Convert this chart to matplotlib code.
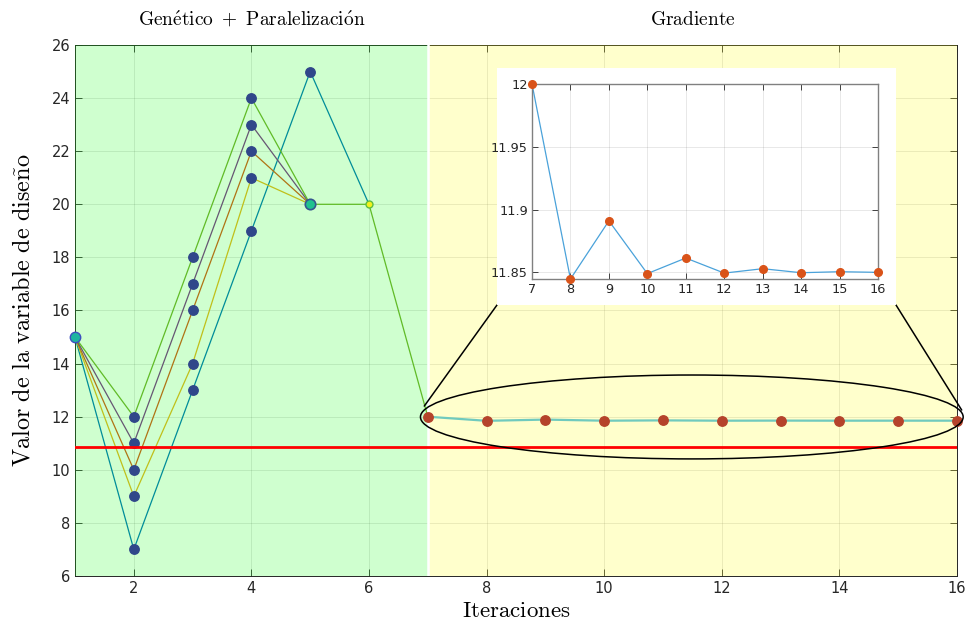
import matplotlib
matplotlib.use("Agg")
import matplotlib.pyplot as plt
from matplotlib.patches import Ellipse, ConnectionPatch

plt.rcParams['mathtext.fontset'] = 'cm'
plt.rcParams['font.family'] = 'DejaVu Sans'

# genetic + parallel phase: one list per individual, starting at iteration 1
gen_green = [15, 12, 18, 24, 20, 20, 12]
gen_purple = [15, 11, 17, 23, 20]
gen_orange = [15, 10, 16, 22, 20]
gen_yellow = [15, 9, 14, 21, 20]
gen_blue = [15, 7, 13, 19, 25, 20]

# gradient phase, iterations 7..16
grad_iter = [7, 8, 9, 10, 11, 12, 13, 14, 15, 16]
grad_vals = [12.0, 11.8447, 11.891, 11.849, 11.8614, 11.8494, 11.8529, 11.8497, 11.8505, 11.85]

limit_value = 10.86

x_ticks = [2, 4, 6, 8, 10, 12, 14, 16]
y_ticks = [6, 8, 10, 12, 14, 16, 18, 20, 22, 24, 26]
inset_yticks = [11.85, 11.9, 11.95, 12.0]
inset_ylabels = ['11.85', '11.9', '11.95', '12']

DARK = (0.15, 0.15, 0.15)
W, H = 968, 626

fig = plt.figure(figsize=(W / 100, H / 100), dpi=100)
ax = fig.add_axes([75 / W, 50 / H, 882 / W, 531 / H])

series = [(gen_blue, (0, 0.447, 0.741)),
          (gen_yellow, (0.929, 0.694, 0.125)),
          (gen_orange, (0.85, 0.325, 0.098)),
          (gen_purple, (0.494, 0.184, 0.556)),
          (gen_green, (0.466, 0.674, 0.188))]
for vals, col in series:
    xs = list(range(1, len(vals) + 1))
    ax.plot(xs, vals, '-', color=col, lw=0.9, zorder=2)

ax.plot(grad_iter, grad_vals, '-', color=(0.301, 0.745, 0.933), lw=1.6, zorder=2)

# shaded phases drawn over lines so they get tinted
ax.axvspan(1, 7, color=(0, 1, 0), alpha=0.19, lw=0, zorder=2.7)
ax.axvspan(7, 16, color=(1, 1, 0), alpha=0.2, lw=0, zorder=2.7)
ax.axvline(7, color='white', lw=1.8, zorder=2.8)

# population markers
for vals in [gen_green, gen_purple, gen_orange, gen_yellow, gen_blue]:
    pts = [(i + 1, v) for i, v in enumerate(vals) if 2 <= i + 1 <= 4]
    ax.plot([p[0] for p in pts], [p[1] for p in pts], 'o', ls='none',
            color='#30478a', ms=6.8, mec='#30478a', zorder=3)
ax.plot([5], [gen_blue[4]], 'o', color='#30478a', ms=6.8, zorder=3)
ax.plot([1], [gen_green[0]], 'o', mfc='#1db5a0', mec='#3d4fc0', ms=7.5, mew=1,
        zorder=3, clip_on=False)
ax.plot([5], [gen_green[4]], 'o', mfc='#1fc28e', mec='#35568f', ms=7.5, mew=1.2, zorder=3)
ax.plot([6], [gen_green[5]], 'o', mfc='#f2f21d', mec='#5fbe40', ms=5, mew=1, zorder=3)

ax.plot(grad_iter, grad_vals, 'o', ls='none', color='#b5432b', ms=6.8, zorder=3,
        clip_on=False)

ax.axhline(limit_value, color='red', lw=2, zorder=3)

ax.set_xlim(1, 16)
ax.set_ylim(6, 26)
ax.set_xticks(x_ticks)
ax.set_yticks(y_ticks)
ax.grid(True, color=DARK, alpha=0.13, lw=0.6)
ax.tick_params(direction='in', top=True, right=True, length=5, width=0.6,
               colors=DARK, labelsize=10.5)
for s in ax.spines.values():
    s.set_color(DARK)
    s.set_linewidth(0.7)

ax.set_xlabel(r'$\mathrm{Iteraciones}$', fontsize=16.5, labelpad=2)
ax.set_ylabel(r'$\mathrm{Valor\ de\ la\ variable\ de\ dise\tilde{n}o}$', fontsize=17.5,
              labelpad=12)

ax.text(4, 26.95, r'$\mathrm{Gen\acute{e}tico\ +\ Paralelizaci\acute{o}n}$',
        ha='center', va='center', fontsize=14)
ax.text(11.5, 26.95, r'$\mathrm{Gradiente}$', ha='center', va='center', fontsize=14)

# zoom ellipse around the gradient phase
ell = Ellipse((11.49, 11.99), 9.23, 3.16, fill=False, ec='black', lw=1.1,
              zorder=4, clip_on=False)
ax.add_patch(ell)

# white panel holding the zoomed view
box = fig.add_axes([497 / W, (H - 305) / H, 399 / W, 237 / H], zorder=5)
box.set_facecolor('white')
box.set_xticks([])
box.set_yticks([])
for s in box.spines.values():
    s.set_visible(False)

for xa, xb, yb in [(0, 6.94, 12.4), (1, 16.08, 12.25)]:
    con = ConnectionPatch(xyA=(xa, 0), coordsA=box.transAxes,
                          xyB=(xb, yb), coordsB=ax.transData,
                          color='black', lw=1.1)
    fig.add_artist(con)

ins = fig.add_axes([532 / W, (H - 279) / H, 346 / W, 195 / H], zorder=6)
ins.plot(grad_iter, grad_vals, '-', color='#4aa2da', lw=0.9)
ins.plot(grad_iter, grad_vals, 'o', ls='none', color='#d95319', ms=5.5, clip_on=False,
         zorder=5)
ins.set_xlim(7, 16)
ins.set_ylim(11.8447, 12.0)
ins.set_xticks(grad_iter)
ins.set_yticks(inset_yticks)
ins.set_yticklabels(inset_ylabels)
ins.grid(True, color=DARK, alpha=0.12, lw=0.6)
ins.tick_params(direction='in', top=True, right=True, length=4, width=0.6,
                colors=DARK, labelsize=9.3, pad=3)
for s in ins.spines.values():
    s.set_color('#808080')
    s.set_linewidth(1.0)

fig.savefig('out.png', dpi=100)
